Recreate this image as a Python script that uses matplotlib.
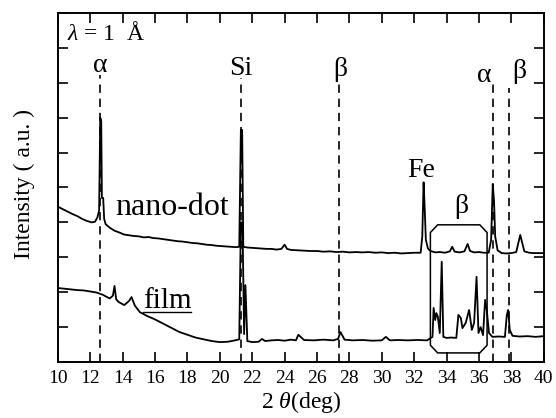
import matplotlib
matplotlib.use('Agg')
import matplotlib.pyplot as plt
from matplotlib.patches import Polygon
from matplotlib.lines import Line2D

plt.rcParams['font.family'] = ['Liberation Serif', 'DejaVu Serif']
plt.rcParams['mathtext.fontset'] = 'custom'
plt.rcParams['mathtext.rm'] = 'Liberation Serif'
plt.rcParams['mathtext.it'] = 'Liberation Serif:italic'

# nano-dot pattern (2theta, intensity in a.u.)
nano_x = [10.0, 10.3, 10.6, 10.9, 11.2, 11.5, 11.8, 12.1, 12.3, 12.45, 12.55, 12.62, 12.68, 12.72, 12.8, 12.86,
          12.95, 13.2, 13.5, 13.8, 14.1, 14.4, 14.7, 15.0, 15.3, 15.6, 15.9, 16.2, 16.5, 16.8, 17.1, 17.4,
          17.7, 18.0, 18.3, 18.6, 18.9, 19.2, 19.5, 19.8, 20.1, 20.4, 20.7, 21.0, 21.2, 21.3, 21.38, 21.45,
          21.7, 22.0, 22.3, 22.6, 22.9, 23.2, 23.5, 23.8, 24.0, 24.15, 24.4, 24.8, 25.2, 25.6, 26.0, 26.4,
          26.8, 27.2, 27.6, 28.0, 28.4, 28.8, 29.2, 29.6, 30.0, 30.4, 30.8, 31.2, 31.6, 32.0, 32.4, 32.5,
          32.58, 32.65, 32.72, 32.85, 33.0, 33.3, 33.6, 33.9, 34.2, 34.35, 34.5, 34.8, 35.1, 35.3, 35.45,
          35.7, 36.0, 36.3, 36.6, 36.75, 36.85, 36.93, 37.0, 37.15, 37.4, 37.7, 38.0, 38.3, 38.45, 38.55,
          38.65, 38.8, 39.1, 39.4, 39.7, 40.0]
nano_y = [4.45, 4.38, 4.31, 4.24, 4.18, 4.10, 4.04, 4.00, 4.02, 4.15, 4.35, 7.00, 6.90, 4.70, 4.70, 4.10,
          3.95, 3.85, 3.76, 3.71, 3.65, 3.63, 3.61, 3.60, 3.57, 3.58, 3.55, 3.54, 3.52, 3.50, 3.48, 3.46,
          3.45, 3.43, 3.41, 3.40, 3.38, 3.36, 3.35, 3.33, 3.32, 3.31, 3.30, 3.29, 3.30, 6.65, 6.65, 3.30,
          3.28, 3.27, 3.26, 3.25, 3.24, 3.24, 3.22, 3.24, 3.36, 3.24, 3.21, 3.20, 3.19, 3.18, 3.18, 3.16,
          3.17, 3.15, 3.16, 3.14, 3.15, 3.14, 3.15, 3.13, 3.14, 3.12, 3.13, 3.11, 3.12, 3.13, 3.13, 3.60,
          5.15, 4.40, 3.50, 3.25, 3.18, 3.14, 3.15, 3.13, 3.17, 3.30, 3.16, 3.14, 3.17, 3.38, 3.18,
          3.14, 3.15, 3.13, 3.13, 3.50, 5.10, 4.60, 3.60, 3.20, 3.12, 3.11, 3.12, 3.15, 3.45, 3.64,
          3.45, 3.17, 3.13, 3.12, 3.12, 3.12]

# film pattern
film_x = [10.0, 10.4, 10.8, 11.2, 11.6, 12.0, 12.4, 12.8, 13.2, 13.4, 13.5, 13.6, 13.75, 14.1, 14.4, 14.55,
          14.75, 15.06, 15.5, 16.0, 16.5, 17.0, 17.5, 18.0, 18.5, 19.0, 19.5, 20.0, 20.5, 21.05, 21.2, 21.3,
          21.4, 21.5, 21.58, 21.7, 22.0, 22.4, 22.6, 22.8, 23.2, 23.6, 24.0, 24.4, 24.7, 24.85, 25.2, 25.8,
          26.4, 27.0, 27.3, 27.45, 27.7, 28.2, 28.8, 29.4, 30.0, 30.25, 30.5, 31.0, 31.6, 32.2, 32.8, 33.13,
          33.2, 33.3, 33.37, 33.46, 33.58, 33.7, 33.8, 34.0, 34.3, 34.6, 34.73, 34.88, 34.98, 35.18, 35.39,
          35.56, 35.7, 35.85, 35.97, 36.1, 36.25, 36.38, 36.48, 36.62, 36.83, 37.2, 37.6, 37.72, 37.8, 37.9,
          38.07, 38.5, 39.0, 39.5, 40.0]
film_y = [2.12, 2.10, 2.08, 2.06, 2.05, 2.02, 1.99, 1.92, 1.82, 1.90, 2.18, 1.80, 1.72, 1.63, 1.75, 1.86,
          1.62, 1.43, 1.32, 1.22, 1.10, 0.98, 0.86, 0.78, 0.70, 0.65, 0.60, 0.57, 0.58, 0.63, 0.65, 4.00,
          4.00, 0.80, 2.20, 0.60, 0.57, 0.58, 0.66, 0.60, 0.62, 0.63, 0.61, 0.64, 0.62, 0.78, 0.63, 0.62,
          0.64, 0.62, 0.66, 0.86, 0.64, 0.62, 0.63, 0.61, 0.62, 0.72, 0.62, 0.63, 0.62, 0.63, 0.62, 0.72,
          1.55, 1.20, 1.40, 1.30, 0.83, 2.87, 0.72, 0.69, 0.70, 0.69, 1.35, 1.26, 0.97, 1.12, 1.49,
          0.92, 1.12, 2.44, 0.83, 1.00, 0.77, 1.78, 1.49, 0.83, 0.72, 0.73, 0.72, 1.35, 1.49, 0.92,
          0.75, 0.73, 0.74, 0.72, 0.74]

# reference peak positions (dashed lines) and their labels
ref_pos = [12.62, 21.3, 27.35, 36.85, 37.85]
ref_top = [8.22, 8.14, 8.00, 8.08, 7.85]
ref_lab = ['α', 'Si', 'β', 'α', 'β']
lab_x = [12.6, 21.3, 27.47, 36.3, 38.46]
lab_y = [8.31, 8.22, 8.19, 8.02, 8.14]

fig = plt.figure(figsize=(5.56, 4.18), dpi=100)
ax = fig.add_axes([0.104, 0.134, 0.874, 0.835])

ax.plot(nano_x, nano_y, color='black', lw=1.3)
ax.plot(film_x, film_y, color='black', lw=1.3)

for xp, yt in zip(ref_pos, ref_top):
	ax.plot([xp, xp], [0, yt], color='black', lw=1.2, dashes=(5, 3.5))

for lab, lx, ly in zip(ref_lab, lab_x, lab_y):
	ax.text(lx, ly, lab, ha='center', va='baseline', fontsize=20)

# box around the beta cluster of the film
bx0, bx1, by0, by1 = 33.0, 36.5, 0.26, 3.93
cx, cy = 0.45, 0.22
box = Polygon([(bx0, by0 + cy), (bx0, by1 - cy), (bx0 + cx, by1), (bx1 - cx, by1),
               (bx1, by1 - cy), (bx1, by0 + cy), (bx1 - cx, by0), (bx0 + cx, by0)],
              closed=True, fill=False, ec='black', lw=1.1)
ax.add_patch(box)
ax.text(34.88, 4.27, 'β', ha='center', va='baseline', fontsize=20)
ax.text(32.4, 5.30, 'Fe', ha='center', va='baseline', fontsize=20)

ax.text(13.52, 4.21, 'nano-dot', ha='left', va='baseline', fontsize=23)
ft = ax.text(15.25, 1.55, 'film', ha='left', va='baseline', fontsize=21)
ax.text(10.55, 9.23, r'$\mathit{\lambda}$ = 1  Å', ha='left', va='baseline', fontsize=17)

ax.set_xlim(10, 40)
ax.set_ylim(0, 10)
ax.set_xticks(range(10, 41, 2))
ax.set_yticks(range(0, 11))
ax.set_yticklabels([])
ax.tick_params(direction='in', length=7, width=1.2, top=True, right=True, labelsize=14)
ax.tick_params(axis='x', pad=6)
for s in ax.spines.values():
	s.set_linewidth(1.4)

ax.set_xlabel(r'2 $\mathit{\theta}$(deg)', fontsize=17, labelpad=1)
fig.text(0.043, 0.56, 'Intensity ( a.u. )', rotation=90, ha='center', va='center', fontsize=17)

# underline of the "film" label
fig.canvas.draw()
bb = ft.get_window_extent().transformed(fig.transFigure.inverted())
uy = (418 - 312) / 418
fig.add_artist(Line2D([bb.x0, bb.x1], [uy, uy], color='black', lw=1.0, transform=fig.transFigure))

fig.savefig('out.png', dpi=100)
